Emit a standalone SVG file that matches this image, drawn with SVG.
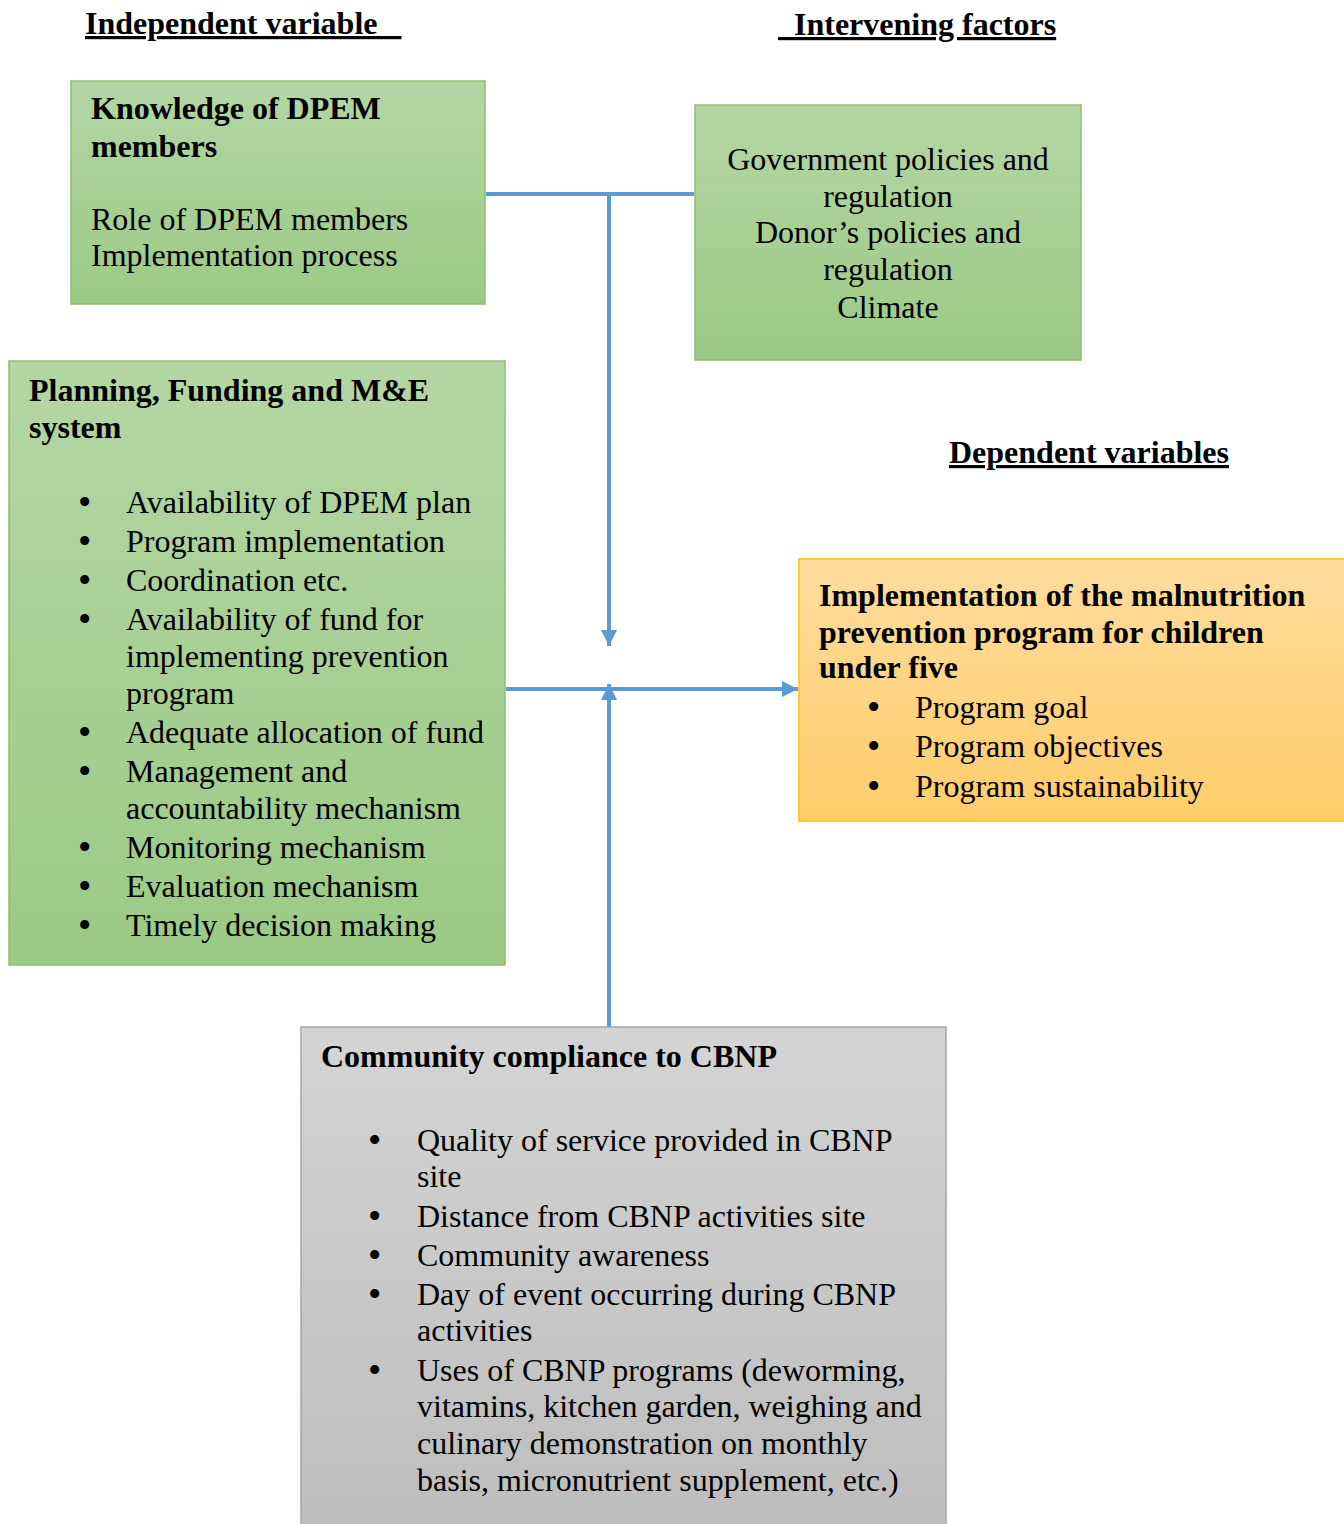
<svg xmlns="http://www.w3.org/2000/svg" width="1344" height="1524" viewBox="0 0 1344 1524">
<defs>
<linearGradient id="gGreen" x1="0" y1="0" x2="0" y2="1"><stop offset="0" stop-color="#b4d6a4"/><stop offset="1" stop-color="#9bca85"/></linearGradient>
<linearGradient id="gOrange" x1="0" y1="0" x2="0" y2="1"><stop offset="0" stop-color="#ffdc9e"/><stop offset="1" stop-color="#ffcd6a"/></linearGradient>
<linearGradient id="gGrey" x1="0" y1="0" x2="0" y2="1"><stop offset="0" stop-color="#d4d4d4"/><stop offset="1" stop-color="#bdbdbd"/></linearGradient>
<marker id="ah" viewBox="0 0 10 10" refX="10" refY="5" markerWidth="4" markerHeight="4" orient="auto" markerUnits="strokeWidth"><path d="M0,0 L10,5 L0,10 z" fill="#5b9bd5"/></marker>
</defs>
<style>
text{font-family:"Liberation Serif","Times New Roman",serif;font-size:32px;fill:#000}
.b{font-weight:bold}
.h{font-weight:bold;text-decoration:underline}
.c{text-anchor:middle}
.bul{font-size:38px}
.green{fill:url(#gGreen);stroke:#8cbf71;stroke-width:1.5}
.orange{fill:url(#gOrange);stroke:#ffc000;stroke-width:1.5}
.grey{fill:url(#gGrey);stroke:#a5a5a5;stroke-width:1.5}
.conn{stroke:#5b9bd5;stroke-width:4;fill:none}
</style>
<g id="headers">
<text class="h" x="85" y="34" xml:space="preserve">Independent variable   </text>
<text class="h" x="778" y="35" xml:space="preserve">  Intervening factors</text>
<text class="h" x="949" y="463">Dependent variables</text>
</g>
<g id="connectors">
<line class="conn" x1="486" y1="194" x2="694" y2="194"/>
<line class="conn" x1="609" y1="194" x2="609" y2="646" marker-end="url(#ah)"/>
<line class="conn" x1="506" y1="689" x2="798" y2="689" marker-end="url(#ah)"/>
<line class="conn" x1="609" y1="1027" x2="609" y2="684" marker-end="url(#ah)"/>
</g>
<g id="knowledge">
<rect class="green" x="71" y="81" width="414" height="223"/>
<text class="b" x="91" y="119">Knowledge of DPEM</text>
<text class="b" x="91" y="157">members</text>
<text x="91" y="230">Role of DPEM members</text>
<text x="91" y="266">Implementation process</text>
</g>
<g id="intervening">
<rect class="green" x="695" y="105" width="386" height="255"/>
<text class="c" x="888" y="170">Government policies and</text>
<text class="c" x="888" y="207">regulation</text>
<text class="c" x="888" y="243">Donor’s policies and</text>
<text class="c" x="888" y="280">regulation</text>
<text class="c" x="888" y="318">Climate</text>
</g>
<g id="planning">
<rect class="green" x="9" y="361" width="496" height="604"/>
<text class="b" x="29" y="401">Planning, Funding and M&amp;E</text>
<text class="b" x="29" y="438">system</text>
<text class="bul" x="78" y="515">•</text><text x="126" y="513">Availability of DPEM plan</text>
<text class="bul" x="78" y="554">•</text><text x="126" y="552">Program implementation</text>
<text class="bul" x="78" y="593">•</text><text x="126" y="591">Coordination etc.</text>
<text class="bul" x="78" y="632">•</text><text x="126" y="630">Availability of fund for</text>
<text x="126" y="667">implementing prevention</text>
<text x="126" y="704">program</text>
<text class="bul" x="78" y="745">•</text><text x="126" y="743">Adequate allocation of fund</text>
<text class="bul" x="78" y="784">•</text><text x="126" y="782">Management and</text>
<text x="126" y="819">accountability mechanism</text>
<text class="bul" x="78" y="860">•</text><text x="126" y="858">Monitoring mechanism</text>
<text class="bul" x="78" y="899">•</text><text x="126" y="897">Evaluation mechanism</text>
<text class="bul" x="78" y="938">•</text><text x="126" y="936">Timely decision making</text>
</g>
<g id="implementation">
<rect class="orange" x="799" y="559" width="550" height="262"/>
<text class="b" x="819" y="606">Implementation of the malnutrition</text>
<text class="b" x="819" y="643">prevention program for children</text>
<text class="b" x="819" y="678">under five</text>
<text class="bul" x="867" y="720">•</text><text x="915" y="718">Program goal</text>
<text class="bul" x="867" y="759">•</text><text x="915" y="757">Program objectives</text>
<text class="bul" x="867" y="799">•</text><text x="915" y="797">Program sustainability</text>
</g>
<g id="community">
<rect class="grey" x="301" y="1027" width="645" height="505"/>
<text class="b" x="321" y="1067">Community compliance to CBNP</text>
<text class="bul" x="368" y="1153">•</text><text x="417" y="1151">Quality of service provided in CBNP</text>
<text x="417" y="1187">site</text>
<text class="bul" x="368" y="1229">•</text><text x="417" y="1227">Distance from CBNP activities site</text>
<text class="bul" x="368" y="1268">•</text><text x="417" y="1266">Community awareness</text>
<text class="bul" x="368" y="1307">•</text><text x="417" y="1305">Day of event occurring during CBNP</text>
<text x="417" y="1341">activities</text>
<text class="bul" x="368" y="1383">•</text><text x="417" y="1381">Uses of CBNP programs (deworming,</text>
<text x="417" y="1417">vitamins, kitchen garden, weighing and</text>
<text x="417" y="1454">culinary demonstration on monthly</text>
<text x="417" y="1491">basis, micronutrient supplement, etc.)</text>
</g>
</svg>
